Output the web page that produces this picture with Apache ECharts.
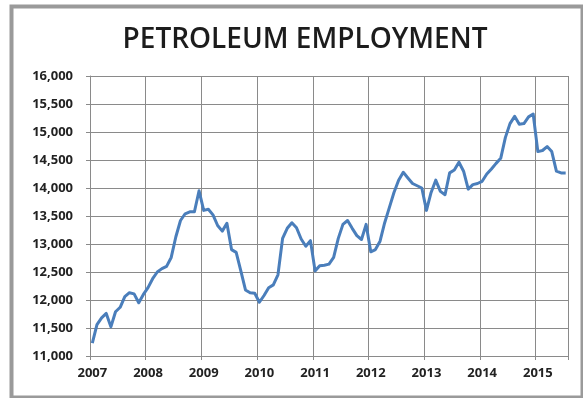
<!DOCTYPE html>
<html>
<head>
<meta charset="utf-8">
<script src="https://cdn.jsdelivr.net/npm/echarts@6/dist/echarts.min.js"></script>
<style>
  html, body { margin: 0; padding: 0; background: #ffffff; }
  #chart { width: 583px; height: 398px; }
</style>
</head>
<body>
<div id="chart"></div>
<script>
// Monthly petroleum employment, January 2007 through July 2015
const startYear = 2007;
const employment = [
  // 2007
  11230, 11560, 11680, 11760, 11520, 11790, 11870, 12060, 12130, 12110, 11950, 12100,
  // 2008
  12220, 12380, 12500, 12560, 12600, 12760, 13130, 13420, 13540, 13575, 13575, 13950,
  // 2009
  13600, 13620, 13520, 13330, 13230, 13370, 12900, 12850, 12520, 12180, 12130, 12120,
  // 2010
  11960, 12080, 12220, 12270, 12450, 13100, 13280, 13380, 13290, 13090, 12960, 13060,
  // 2011
  12520, 12610, 12620, 12640, 12760, 13100, 13350, 13420, 13280, 13150, 13080, 13350,
  // 2012
  12860, 12900, 13050, 13380, 13650, 13920, 14140, 14280, 14180, 14080, 14040, 14000,
  // 2013
  13600, 13920, 14140, 13940, 13880, 14270, 14320, 14460, 14300, 13980, 14060, 14080,
  // 2014
  14120, 14250, 14340, 14440, 14530, 14900, 15150, 15280, 15140, 15150, 15270, 15320,
  // 2015
  14650, 14670, 14740, 14650, 14300, 14270, 14270
];
const yTicks = { min: 11000, max: 16000, step: 500 };
const titleText = 'PETROLEUM EMPLOYMENT';

// One category per month; the year is shown on each January
const months = employment.map((_, i) => String(startYear + Math.floor(i / 12)) + '-' + String(i % 12 + 1));
const isJanuary = (idx) => idx % 12 === 0;

const chart = echarts.init(document.getElementById('chart'), null, { renderer: 'canvas' });
chart.setOption({
  animation: false,
  backgroundColor: '#ffffff',
  title: {
    text: titleText,
    left: 300,
    textAlign: 'center',
    top: 21,
    textStyle: {
      fontFamily: 'Open Sans',
      fontWeight: 600,
      fontSize: 28,
      color: '#1c1c1c'
    }
  },
  graphic: [{
    type: 'rect',
    left: 9,
    top: 4,
    shape: { width: 571, height: 391 },
    style: { fill: 'none', stroke: '#9a9a9a', lineWidth: 4 },
    silent: true
  }],
  grid: { left: 90, right: 15, top: 76, bottom: 42 },
  xAxis: {
    type: 'category',
    data: months,
    boundaryGap: true,
    axisLine: { show: true, lineStyle: { color: '#8a8a8a', width: 1 } },
    axisTick: { show: true, interval: (idx) => isJanuary(idx), length: 4, lineStyle: { color: '#8a8a8a' } },
    splitLine: { show: true, interval: (idx) => isJanuary(idx), lineStyle: { color: '#8a8a8a', width: 1 } },
    axisLabel: {
      interval: (idx) => isJanuary(idx),
      formatter: (v) => v.split('-')[0],
      fontFamily: 'Open Sans',
      fontWeight: 'bold',
      fontSize: 13,
      color: '#222222',
      margin: 11
    }
  },
  yAxis: {
    type: 'value',
    min: yTicks.min,
    max: yTicks.max,
    interval: yTicks.step,
    axisLine: { show: true, lineStyle: { color: '#8a8a8a', width: 1 } },
    axisTick: { show: true, length: 4, lineStyle: { color: '#8a8a8a' } },
    splitLine: { show: true, lineStyle: { color: '#8a8a8a', width: 1 } },
    axisLabel: {
      formatter: (v) => v.toLocaleString('en-US'),
      fontFamily: 'Open Sans',
      fontWeight: 'bold',
      fontSize: 13,
      color: '#222222',
      margin: 17
    }
  },
  series: [{
    type: 'line',
    data: employment,
    showSymbol: false,
    symbol: 'none',
    lineStyle: { color: '#4a7ebb', width: 3, join: 'round' }
  }]
});
</script>
</body>
</html>
